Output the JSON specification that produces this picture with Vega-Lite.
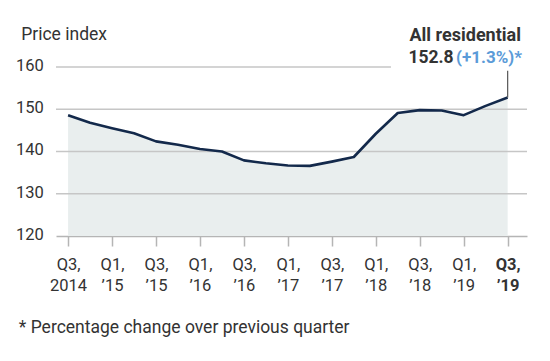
{
  "$schema": "https://vega.github.io/schema/vega-lite/v6.json",
  "width": 471,
  "height": 169,
  "autosize": "none",
  "padding": {"left": 56, "top": 67, "right": 23, "bottom": 125},
  "background": "white",
  "config": {"view": {"stroke": null}, "font": "Roboto"},
  "data": {"values": [
    {"quarter": "Q3 2014", "i": 0, "v": 148.6},
    {"quarter": "Q4 2014", "i": 1, "v": 146.8},
    {"quarter": "Q1 2015", "i": 2, "v": 145.5},
    {"quarter": "Q2 2015", "i": 3, "v": 144.3},
    {"quarter": "Q3 2015", "i": 4, "v": 142.4},
    {"quarter": "Q4 2015", "i": 5, "v": 141.6},
    {"quarter": "Q1 2016", "i": 6, "v": 140.6},
    {"quarter": "Q2 2016", "i": 7, "v": 140.0},
    {"quarter": "Q3 2016", "i": 8, "v": 137.9},
    {"quarter": "Q4 2016", "i": 9, "v": 137.2},
    {"quarter": "Q1 2017", "i": 10, "v": 136.7},
    {"quarter": "Q2 2017", "i": 11, "v": 136.6},
    {"quarter": "Q3 2017", "i": 12, "v": 137.6},
    {"quarter": "Q4 2017", "i": 13, "v": 138.7},
    {"quarter": "Q1 2018", "i": 14, "v": 144.2},
    {"quarter": "Q2 2018", "i": 15, "v": 149.1},
    {"quarter": "Q3 2018", "i": 16, "v": 149.8},
    {"quarter": "Q4 2018", "i": 17, "v": 149.7},
    {"quarter": "Q1 2019", "i": 18, "v": 148.6},
    {"quarter": "Q2 2019", "i": 19, "v": 150.8},
    {"quarter": "Q3 2019", "i": 20, "v": 152.8}
  ]},
  "layer": [
    {
      "mark": {"type": "area", "color": "#e9eeee"},
      "encoding": {
        "x": {
          "field": "i", "type": "quantitative",
          "scale": {"domain": [-0.55, 20.88], "nice": false, "zero": false},
          "axis": {
            "values": [0, 2, 4, 6, 8, 10, 12, 14, 16, 18, 20],
            "labelExpr": "[['Q3,','2014'],['Q1,','\u201915'],['Q3,','\u201915'],['Q1,','\u201916'],['Q3,','\u201916'],['Q1,','\u201917'],['Q3,','\u201917'],['Q1,','\u201918'],['Q3,','\u201918'],['Q1,','\u201919'],['Q3,','\u201919']][datum.value/2]",
            "labelFontSize": 16.5,
            "labelColor": "#333333",
            "labelFontWeight": {"condition": {"test": "datum.value == 20", "value": "bold"}, "value": "normal"},
            "labelLineHeight": 21.4,
            "labelBaseline": "top",
            "labelPadding": 10,
            "labelAlign": "center",
            "tickSize": 10,
            "tickColor": "#b5b5b5",
            "tickWidth": 1.5,
            "domainColor": "#b5b5b5",
            "domainWidth": 1.5,
            "grid": false,
            "title": "* Percentage change over previous quarter",
            "titleFontSize": 17.5,
            "titleFontWeight": "normal",
            "titleColor": "#333333",
            "titleAlign": "left",
            "titleAnchor": null,
            "titleBaseline": "alphabetic",
            "titleX": -37.7,
            "titleY": 96.3
          }
        },
        "y": {
          "field": "v", "type": "quantitative",
          "scale": {"domain": [120, 160], "nice": false, "zero": false},
          "axis": {
            "values": [120, 130, 140, 150, 160],
            "domain": false,
            "ticks": false,
            "grid": false,
            "labelFontSize": 16.5,
            "labelColor": "#333333",
            "labelPadding": 12.7,
            "labelBaseline": "alphabetic",
            "labelOffset": 3.4,
            "title": "Price index",
            "titleFontSize": 17.5,
            "titleFontWeight": "normal",
            "titleColor": "#333333",
            "titleAngle": 0,
            "titleAlign": "left",
            "titleBaseline": "alphabetic",
            "titleX": -35.3,
            "titleY": -27.7
          }
        },
        "y2": {"datum": 120}
      }
    },
    {
      "data": {"values": [{"g": 130}, {"g": 140}, {"g": 150}]},
      "mark": {"type": "rule", "color": "#c6c6c6", "strokeWidth": 1.5},
      "encoding": {
        "x": {"datum": -0.55, "type": "quantitative"},
        "x2": {"datum": 20.88},
        "y": {"field": "g", "type": "quantitative"}
      }
    },
    {
      "data": {"values": [{"g": 160}]},
      "mark": {"type": "rule", "color": "#c6c6c6", "strokeWidth": 1.5},
      "encoding": {
        "x": {"datum": -0.55, "type": "quantitative"},
        "x2": {"datum": 14.69},
        "y": {"field": "g", "type": "quantitative"}
      }
    },
    {
      "mark": {"type": "line", "color": "#13294b", "strokeWidth": 2.6, "strokeJoin": "round"},
      "encoding": {
        "x": {"field": "i", "type": "quantitative"},
        "y": {"field": "v", "type": "quantitative"}
      }
    },
    {
      "data": {"values": [{"i": 20, "v": 152.8, "top": 159.1}]},
      "mark": {"type": "rule", "color": "#555555", "strokeWidth": 1.2},
      "encoding": {
        "x": {"field": "i", "type": "quantitative"},
        "y": {"field": "v", "type": "quantitative"},
        "y2": {"field": "top"}
      }
    },
    {
      "data": {"values": [{"i": 20, "v": 152.8, "label": "All residential"}]},
      "mark": {"type": "text", "align": "right", "baseline": "alphabetic", "dx": 13.3, "dy": -56.7, "fontSize": 18, "fontWeight": "bold", "color": "#333333"},
      "encoding": {
        "x": {"field": "i", "type": "quantitative"},
        "y": {"field": "v", "type": "quantitative"},
        "text": {"field": "label"}
      }
    },
    {
      "data": {"values": [{"i": 20, "v": 152.8, "label": "152.8"}]},
      "mark": {"type": "text", "align": "right", "baseline": "alphabetic", "dx": -54, "dy": -34.1, "fontSize": 17.5, "fontWeight": "bold", "color": "#333333"},
      "encoding": {
        "x": {"field": "i", "type": "quantitative"},
        "y": {"field": "v", "type": "quantitative"},
        "text": {"field": "label"}
      }
    },
    {
      "data": {"values": [{"i": 20, "v": 152.8, "label": "(+1.3%)*"}]},
      "mark": {"type": "text", "align": "right", "baseline": "alphabetic", "dx": 14.3, "dy": -34.1, "fontSize": 17, "fontWeight": "bold", "color": "#5b9bd8"},
      "encoding": {
        "x": {"field": "i", "type": "quantitative"},
        "y": {"field": "v", "type": "quantitative"},
        "text": {"field": "label"}
      }
    }
  ]
}
